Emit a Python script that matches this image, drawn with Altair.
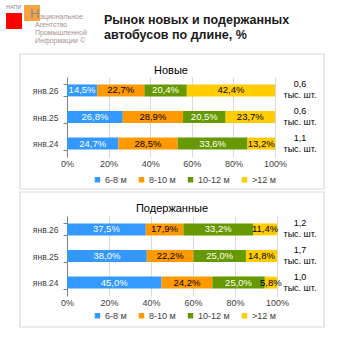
import altair as alt
import pandas as pd

PERIODS = ["янв.26", "янв.25", "янв.24"]
SEGMENTS = ["6-8 м", "8-10 м", "10-12 м", ">12 м"]
COLORS = ["#3399ff", "#ff9900", "#669900", "#ffcc00"]
LABEL_COLORS = ["white", "black", "white", "black"]

NEW_6_8 = [14.5, 26.8, 24.7]
NEW_8_10 = [22.7, 28.9, 28.5]
NEW_10_12 = [20.4, 20.5, 33.6]
NEW_12 = [42.4, 23.7, 13.2]
NEW_TOTALS = ["0,6", "0,6", "1,1"]

USED_6_8 = [37.5, 38.0, 45.0]
USED_8_10 = [17.9, 22.2, 24.2]
USED_10_12 = [33.2, 25.0, 25.0]
USED_12 = [11.4, 14.8, 5.8]
USED_TOTALS = ["1,2", "1,7", "1,0"]

UNIT = "тыс. шт."
TITLE_LINES = ["Рынок новых и подержанных", "автобусов по длине, %"]
PANEL_TITLES = ["Новые", "Подержанные"]
LOGO_SMALL = "НАПИ"
LOGO_BIG = "Н"
LOGO_FIRST = "ациональное"
LOGO_LINES = ["Агентство", "Промышленной", "Информации ©"]

FONT = "Liberation Sans"
TEXT_COLOR = "#404040"


def build_df(series):
    rows = []
    for si, (seg, vals) in enumerate(zip(SEGMENTS, series)):
        for p, v in zip(PERIODS, vals):
            rows.append({
                "period": p, "seg": seg, "order": si, "v": v,
                "label": f"{v:.1f}".replace(".", ",") + "%",
                "tc": LABEL_COLORS[si],
            })
    return pd.DataFrame(rows)


def one():
    return pd.DataFrame({"k": [0]})


def panel(series, totals, title, width, box_y, box_y2, legend_y, title_y, extra=None):
    df = build_df(series)
    tdf = pd.DataFrame({"period": PERIODS, "total": totals})
    y = alt.Y("period:N", sort=PERIODS,
              scale=alt.Scale(paddingInner=0.55, paddingOuter=0.28),
              axis=alt.Axis(title=None, domain=True, domainColor="#808080",
                            ticks=True, tickColor="#808080", tickSize=4,
                            tickBand="extent", labelPadding=5, labelFontSize=8.5,
                            labelColor=TEXT_COLOR, labelFont=FONT, grid=False))
    xaxis = alt.Axis(values=[0, 0.2, 0.4, 0.6, 0.8, 1], format=".0%", grid=True,
                     gridColor="#d9d9d9", domain=False, ticks=False, labelFlush=False,
                     labelFontSize=9, labelColor=TEXT_COLOR, labelFont=FONT,
                     labelPadding=2, title=None)
    base = alt.Chart(df).transform_stack(
        stack="v", groupby=["period"], sort=[alt.SortField("order")],
        as_=["x0", "x1"], offset="normalize"
    ).transform_calculate(mid="(datum.x0 + datum.x1) / 2")

    border = alt.Chart(one()).mark_rect(
        fillOpacity=0, stroke="#d9d9d9", strokeWidth=1.2
    ).encode(x=alt.value(-47), x2=alt.value(257), y=alt.value(box_y), y2=alt.value(box_y2))

    bars = base.mark_bar().encode(
        x=alt.X("x0:Q", scale=alt.Scale(domain=[0, 1], nice=False), axis=xaxis),
        x2="x1:Q",
        y=y,
        color=alt.Color("seg:N", scale=alt.Scale(domain=SEGMENTS, range=COLORS),
                        legend=alt.Legend(title=None, orient="none", direction="horizontal",
                                          legendX=26, legendY=legend_y,
                                          symbolType="square", symbolSize=30,
                                          symbolStrokeWidth=0, labelFontSize=9,
                                          labelColor=TEXT_COLOR, labelFont=FONT,
                                          labelOffset=3, columnPadding=10, padding=0)),
    )
    labels = []
    for col in ["white", "black"]:
        labels.append(
            base.transform_filter(alt.datum.tc == col).mark_text(
                fontSize=9.5, font=FONT, color=col, baseline="middle"
            ).encode(x="mid:Q", y=alt.Y("period:N", sort=PERIODS), text="label:N")
        )
    tot1 = alt.Chart(tdf).mark_text(fontSize=9, font=FONT, color="#000000", dy=-6,
                                    baseline="middle").encode(
        x=alt.value(233), y=alt.Y("period:N", sort=PERIODS), text="total:N")
    tot2 = alt.Chart(tdf).mark_text(fontSize=9, font=FONT, color="#000000", dy=5,
                                    baseline="middle", text=UNIT).encode(
        x=alt.value(233), y=alt.Y("period:N", sort=PERIODS))
    ttl = alt.Chart(one()).mark_text(fontSize=11, font=FONT, color="#000000",
                                     baseline="middle", text=title).encode(
        x=alt.value(width / 2), y=alt.value(title_y))
    layers = [border, bars] + labels + [tot1, tot2, ttl] + (extra or [])
    return alt.layer(*layers).properties(width=width, height=80)


# decorations for the header (relative to top panel plot origin)
logo = [
    alt.Chart(one()).mark_rect(color="#ff0000").encode(
        x=alt.value(-61), x2=alt.value(-45), y=alt.value(-64), y2=alt.value(-48)),
    alt.Chart(one()).mark_rect(color="#f7a445").encode(
        x=alt.value(-43), x2=alt.value(-27), y=alt.value(-72), y2=alt.value(-56)),
    alt.Chart(one()).mark_text(text=LOGO_SMALL, fontSize=5.5, font=FONT, color="#7f7f7f",
                               align="left", baseline="top").encode(
        x=alt.value(-61), y=alt.value(-72)),
    alt.Chart(one()).mark_text(text=LOGO_BIG, fontSize=13, font=FONT, color="#8a8a8a",
                               align="left", baseline="bottom").encode(
        x=alt.value(-37), y=alt.value(-56)),
    alt.Chart(one()).mark_text(text=LOGO_FIRST, fontSize=7, font=FONT, color="#a89090",
                               align="left", baseline="middle").encode(
        x=alt.value(-27), y=alt.value(-60)),
]
for i, line in enumerate(LOGO_LINES):
    logo.append(
        alt.Chart(one()).mark_text(text=line, fontSize=7, font=FONT, color="#a89090",
                                   align="left", baseline="middle").encode(
            x=alt.value(-32), y=alt.value(-52 + 8 * i))
    )
logo.append(
    alt.Chart(one()).mark_text(text=TITLE_LINES, fontSize=12.5, font=FONT, fontWeight="bold",
                               color="#1a1a1a", align="left", baseline="top",
                               lineHeight=15).encode(
        x=alt.value(37), y=alt.value(-63))
)

top = panel([NEW_6_8, NEW_8_10, NEW_10_12, NEW_12], NEW_TOTALS, PANEL_TITLES[0],
            208, -23, 112, 98, -6, extra=logo)
bottom = panel([USED_6_8, USED_8_10, USED_10_12, USED_12], USED_TOTALS, PANEL_TITLES[1],
               210, -24, 111, 95, -7)

chart = alt.vconcat(top, bottom, spacing=59, bounds="flush").resolve_scale(
    x="independent", y="independent", color="independent"
).resolve_legend(color="independent").properties(
    padding={"left": 6, "top": 5, "right": 0, "bottom": 0},
    background="white",
).configure_view(strokeWidth=0).configure_text(font=FONT)

chart.save("out.html", embed_options={"renderer": "svg", "actions": False})
